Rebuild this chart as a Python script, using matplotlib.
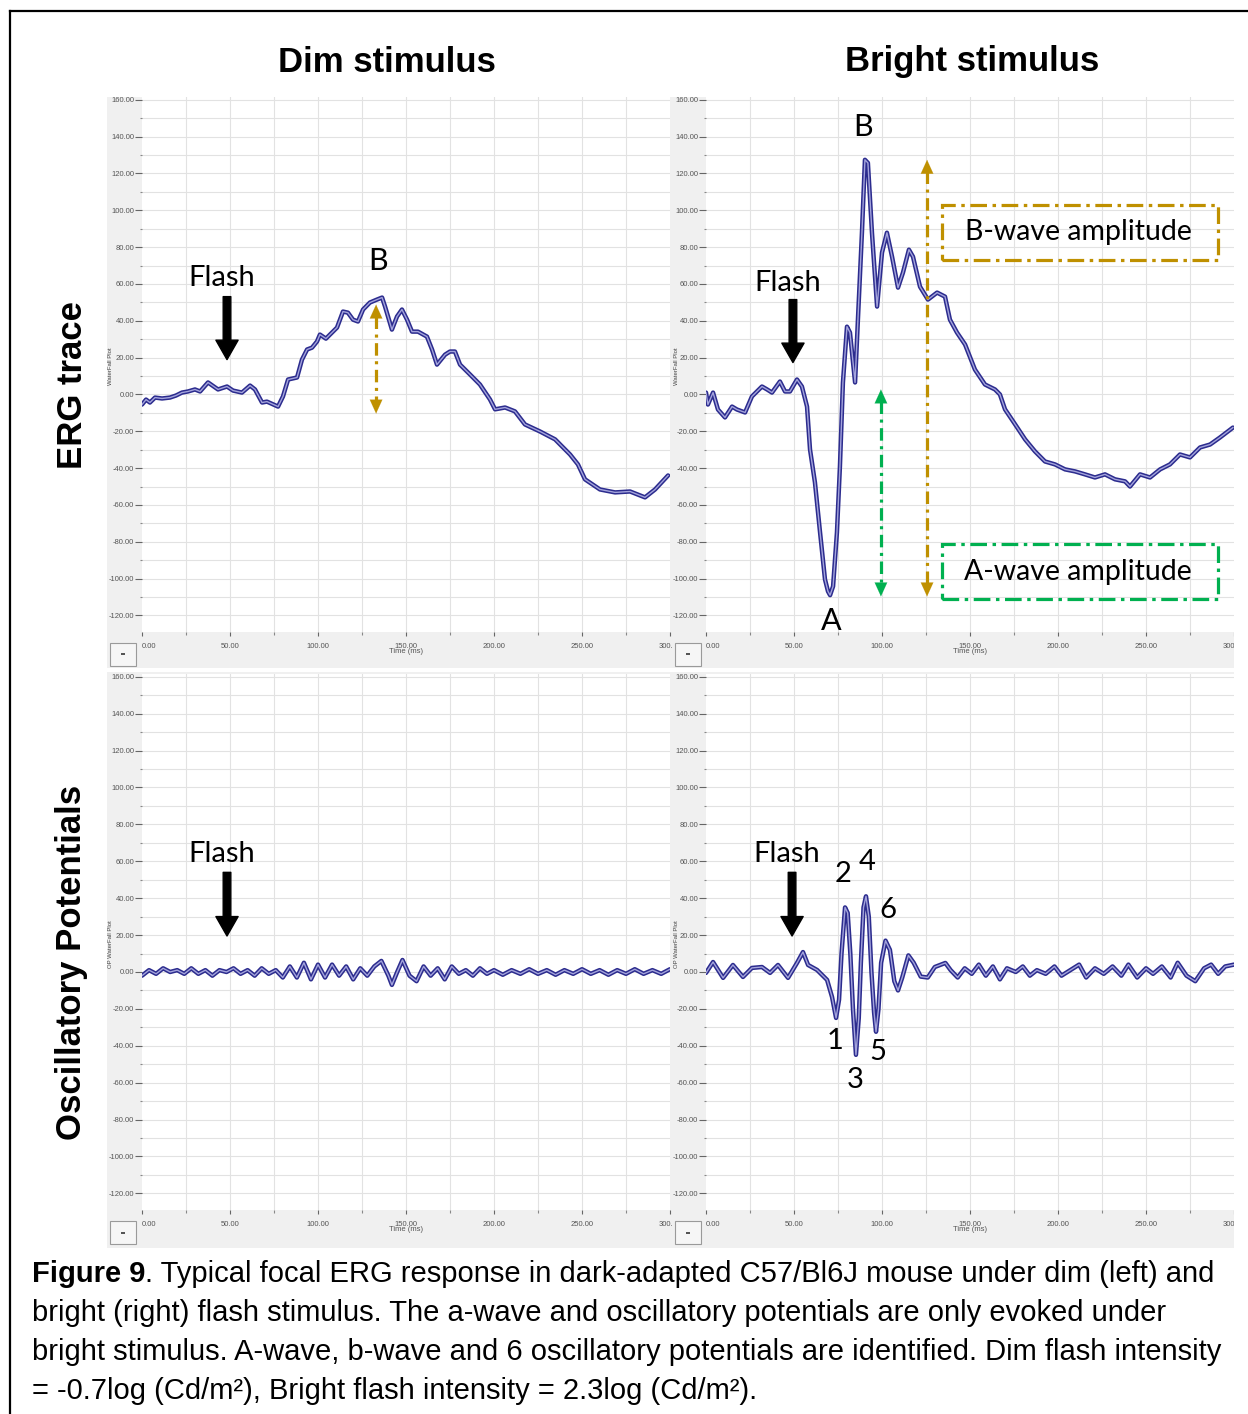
import matplotlib
matplotlib.use('Agg')
import matplotlib.pyplot as plt
from matplotlib.patches import Rectangle
import numpy as np

plt.rcParams['lines.scale_dashes'] = False

# ---------------- data ----------------
erg_dim_t = [0, 2.3, 4.5, 7.4, 11.4, 15.9, 19.3, 22.7, 26.1, 30.1, 33.0, 37.5, 43.2, 48.3, 51.7, 56.8,
             61.4, 64.2, 68.2, 71.0, 77.3, 80.1, 83.0, 88.1, 90.9, 93.8, 96.6, 99.4, 101.1, 104.5, 106.8,
             110.8, 114.2, 117.0, 119.9, 122.7, 125.6, 129.5, 133.5, 136.4, 138.1, 142.0, 144.9, 147.7,
             150.6, 153.4, 156.8, 161.9, 164.8, 167.6, 172.2, 175.0, 177.8, 180.7, 186.4, 192.0, 197.7,
             200.6, 206.3, 211.9, 217.6, 226.1, 234.7, 243.2, 247.7, 251.7, 260.2, 268.8, 277.3, 285.8,
             291.5, 298.9]
erg_dim_v = [-5.5, -2.8, -4.4, -1.7, -2.2, -1.7, -0.6, 1.0, 1.6, 2.7, 1.6, 6.5, 2.7, 4.3, 2.1, 1.0,
             4.8, 2.7, -4.4, -3.9, -6.6, -1.1, 8.1, 9.2, 18.9, 24.4, 25.4, 28.7, 32.5, 30.3, 32.5,
             36.3, 45.0, 44.4, 40.6, 39.6, 46.1, 49.9, 51.5, 52.6, 47.7, 35.2, 42.3, 46.1,
             40.6, 34.1, 34.1, 31.4, 24.4, 16.2, 21.6, 23.3, 23.3, 16.2, 10.8, 5.4, -2.7,
             -8.1, -7.1, -9.2, -16.3, -20.1, -24.4, -32.6, -38.0, -46.1, -51.6, -53.2, -52.7, -55.9,
             -51.6, -44.0]

erg_bright_t = [0, 1.1, 4.0, 6.8, 10.8, 14.8, 17.6, 22.2, 26.1, 31.8, 34.7, 37.5, 42.0, 44.9, 47.7,
                51.7, 54.5, 57.4, 59.1, 61.9, 64.8, 67.6, 69.3, 70.5, 72.2, 74.4, 76.1, 77.8, 80.1, 81.8,
                84.7, 86.4, 88.6, 90.3, 92.0, 94.3, 97.2, 100.0, 102.8, 105.7, 109.1, 111.9, 115.3,
                117.6, 121.6, 126.1, 131.3, 135.8, 138.6, 142.6, 147.2, 152.8, 158.5, 164.2, 167.0,
                169.9, 175.6, 181.3, 186.9, 192.6, 198.3, 204.0, 209.7, 215.3, 221.0, 226.7, 232.4,
                238.1, 240.9, 246.6, 252.3, 258.0, 263.6, 269.3, 275.0, 280.7, 286.4, 292.0, 299.4]
erg_bright_v = [1.0, -5.5, 1.0, -8.2, -12.5, -6.6, -8.2, -9.8, -1.1, 4.3, 2.7, 1.0, 7.0, 1.6, 1.6,
                8.1, 4.3, -6.6, -29.9, -47.8, -74.9, -100.4, -106.9, -109.0, -104.2, -74.9, -39.1, 6.5, 36.8, 33.6,
                6.5, 42.3, 87.8, 127.4, 125.7, 87.8, 47.7, 77.0, 87.8, 74.8, 58.0, 66.1, 78.6,
                74.8, 58.5, 51.5, 55.3, 53.1, 40.6, 33.6, 27.1, 13.5, 5.4, 2.7, 0.0,
                -8.1, -16.2, -24.4, -30.9, -36.4, -38.0, -40.7, -41.8, -43.4, -45.1, -43.4, -46.1,
                -47.2, -50.0, -43.4, -45.1, -40.7, -38.0, -32.6, -34.2, -28.8, -27.2, -23.4, -18.0]

op_dim_t = [0, 4, 8, 12, 16, 20, 24, 28, 32, 36, 40, 44, 48, 52, 56, 60, 64, 68, 72, 76, 80, 84, 88,
            92, 96, 100, 104, 108, 112, 116, 120, 124, 128, 132, 136, 140, 142, 145, 148, 152, 156,
            160, 164, 168, 172, 176, 180, 184, 188, 192, 196, 200, 205, 210, 215, 220, 225, 230, 235,
            240, 245, 250, 255, 260, 265, 270, 275, 280, 285, 290, 295, 300]
op_dim_v = [-2, 1, -1, 2, 0, 1, -1, 2, -1, 1, -2, 1, 0, 2, -1, 1, -2, 2, -1, 1, -3, 3, -3,
            5, -4, 4, -3, 4, -2, 3, -4, 2, -2, 3, 6, -2, -7, 0, 6.5, -2, -5,
            3, -2, 2, -4, 3, -1, 1, -2, 2, -1, 1, -1.5, 1, -1, 1.5, -1, 1, -1.5, 1,
            -1, 1.5, -1, 1, -1.5, 1, -1, 1.5, -1, 1, -1, 1.5]

op_bright_t = [0, 4.0, 9.7, 15.3, 21.0, 26.1, 31.8, 36.4, 40.9, 46.6, 51.7, 55.1, 58.0, 63.1, 68.8,
               71.6, 73.9, 75.6, 77.0, 79.0, 80.5, 82.0, 83.5, 85.2, 86.8, 88.0, 89.5, 90.9, 92.5,
               94.0, 95.5, 96.6, 98.0, 99.5, 102.0, 104.5, 107.0, 109.1, 111.5, 115.0, 118.0, 122.0,
               126.0, 130.0, 136.0, 139.0, 143, 147, 151, 155, 159, 163, 167, 171, 176, 180, 184, 188,
               193, 198, 202, 207, 212, 216, 221, 226, 231, 236, 240, 245, 250, 254, 259, 264, 268,
               273, 278, 283, 287, 291, 295, 300]
op_bright_v = [-0.5, 5.4, -3.2, 3.8, -2.7, 2.2, 2.7, -0.5, 3.8, -3.2, 4.9, 10.8, 3.8, 1.1, -4.3,
               -13.5, -24.9, -15, 10, 35, 32, 10, -20, -44.9, -25, 5, 35, 41, 30,
               0, -22, -32.4, -20, 5, 17, 12, -5, -10, -3, 9, 5, -2.5,
               -3, 2.7, 4.9, 1, -3, 2, -1, 4, -2, 3, -4, 2, 0, 3, -2, 1,
               -1, 3, -2, 1, 4, -3, 2, -1, 3, -2, 4, -3, 2, -1, 3, -3, 5,
               -2, -5, 2, 4, -1, 3, 4]

y_ticks = [160, 140, 120, 100, 80, 60, 40, 20, 0, -20, -40, -60, -80, -100, -120]
x_ticks = [0, 50, 100, 150, 200, 250, 300]

titles = ["Dim stimulus", "Bright stimulus"]
row_labels = ["ERG trace", "Oscillatory Potentials"]
caption_lines = [
    ". Typical focal ERG response in dark-adapted C57/Bl6J mouse under dim (left) and",
    "bright (right) flash stimulus. The a-wave and oscillatory potentials are only evoked under",
    "bright stimulus. A-wave, b-wave and 6 oscillatory potentials are identified. Dim flash intensity",
    "= -0.7log (Cd/m\u00b2), Bright flash intensity = 2.3log (Cd/m\u00b2).",
]

# ---------------- layout helpers ----------------
W, H = 1248, 1414
fig = plt.figure(figsize=(W / 100, H / 100), dpi=100)


def fbox(x0, y0, x1, y1):
    return [x0 / W, 1 - y1 / H, (x1 - x0) / W, (y1 - y0) / H]


GOLD = '#BF9000'
GREEN = '#00B050'
ANN_FONT = ['Lato', 'DejaVu Sans']
TICK_FONT = ['Liberation Sans', 'DejaVu Sans']
TRACE_DARK = '#2c2c8e'
TRACE_LIGHT = '#a4a4dc'


def make_panel(bgbox, axbox, t, v, ylab):
    bg = fig.add_axes(fbox(*bgbox))
    bg.set_facecolor('#f0f0f0')
    bg.set_xticks([])
    bg.set_yticks([])
    for s in bg.spines.values():
        s.set_visible(False)
    ax = fig.add_axes(fbox(*axbox))
    ax.set_facecolor('white')
    ax.set_xlim(0, 300)
    ax.set_ylim(-129, 161.5)
    for s in ax.spines.values():
        s.set_visible(False)
    ax.set_yticks(y_ticks)
    ax.set_yticklabels([f"{y:.2f}" for y in y_ticks], family=TICK_FONT)
    ax.set_yticks(np.arange(-120, 161, 10), minor=True)
    ax.set_xticks(x_ticks)
    ax.set_xticklabels([f"{x:.2f}" for x in x_ticks], family=TICK_FONT)
    ax.set_xticks(np.arange(0, 301, 25), minor=True)
    ax.tick_params(axis='both', which='major', labelsize=5.5, labelcolor='#555555', color='#666666',
                   direction='out')
    ax.tick_params(axis='y', which='major', length=5, width=0.8, pad=0.5)
    ax.tick_params(axis='y', which='minor', length=1.5, width=0.8, color='#888888')
    ax.tick_params(axis='x', which='major', length=3, width=0.8, pad=5)
    ax.tick_params(axis='x', which='minor', length=2, width=0.8, color='#888888')
    labs = ax.get_xticklabels()
    labs[0].set_horizontalalignment('left')
    ax.set_xlabel('Time (ms)', fontsize=5.5, color='#555555', labelpad=-1.5, family=TICK_FONT)
    # grid
    for gy in np.arange(-120, 161, 10):
        ax.axhline(gy, color='#e2e2e2', lw=0.8, zorder=0)
    for gx in np.arange(25, 300, 25):
        ax.axvline(gx, color='#e2e2e2', lw=0.8, zorder=0)
    ax.plot(t, v, color=TRACE_DARK, lw=3.2, solid_joinstyle='round', solid_capstyle='round', zorder=3)
    ax.plot(t, v, color=TRACE_LIGHT, lw=1.0, solid_joinstyle='round', zorder=4)
    # small button
    bx0, by0 = bgbox[0] + 3, axbox[3] + 11
    fig.patches.append(Rectangle((bx0 / W, 1 - (by0 + 23) / H), 26 / W, 23 / H, transform=fig.transFigure,
                                 facecolor='#f6f6f6', edgecolor='#9a9a9a', lw=0.8, zorder=3))
    fig.patches.append(Rectangle(((bx0 + 11) / W, 1 - (by0 + 12.5) / H), 4 / W, 2 / H, transform=fig.transFigure,
                                 facecolor='#555555', edgecolor='none', zorder=4))
    cy = (axbox[1] + axbox[3]) / 2 + 2
    fig.text((bgbox[0] + 4) / W, 1 - cy / H, ylab, rotation=90, fontsize=4.3, color='#444444',
             ha='center', va='center', family=TICK_FONT)
    return ax


ax_tl = make_panel((107, 97, 672, 668), (142, 97, 670, 632), erg_dim_t, erg_dim_v, 'WaterFall Plot')
ax_tr = make_panel((672, 97, 1234, 668), (706, 97, 1234, 632), erg_bright_t, erg_bright_v, 'WaterFall Plot')
ax_bl = make_panel((107, 672, 672, 1248), (142, 674, 670, 1210), op_dim_t, op_dim_v, 'OP WaterFall Plot')
ax_br = make_panel((672, 672, 1234, 1248), (706, 674, 1234, 1210), op_bright_t, op_bright_v, 'OP WaterFall Plot')

# white mask right of the right panels (clips "300.00")
fig.patches.append(Rectangle((1234 / W, 1 - 1250 / H), 20 / W, 1160 / H, transform=fig.transFigure,
                             facecolor='white', edgecolor='none', zorder=5))

# outer frame
fig.add_artist(plt.Line2D([10 / W, 10 / W], [0, 1 - 11 / H], color='black', lw=1.6, transform=fig.transFigure))
fig.add_artist(plt.Line2D([10 / W, 1], [1 - 11 / H, 1 - 11 / H], color='black', lw=1.6, transform=fig.transFigure))

# titles and row labels
title_font = ['Liberation Sans', 'DejaVu Sans']
fig.text(387 / W, 1 - 62 / H, titles[0], fontsize=25, fontweight='bold', ha='center', va='center', family=title_font)
fig.text(972 / W, 1 - 62 / H, titles[1], fontsize=25, fontweight='bold', ha='center', va='center', family=title_font)
fig.text(72 / W, 1 - 385 / H, row_labels[0], fontsize=25, fontweight='bold', ha='center', va='center',
         rotation=90, family=title_font)
fig.text(72 / W, 1 - 962 / H, row_labels[1], fontsize=25, fontweight='bold', ha='center', va='center',
         rotation=90, family=title_font)


# annotations
def flash(ax, t, vtext, vtop, vtip):
    ax.text(t - 3, vtext, 'Flash', fontsize=21, ha='center', va='center', family=ANN_FONT, zorder=6)
    ax.annotate('', xy=(t, vtip), xytext=(t, vtop),
                arrowprops=dict(width=5.5, headwidth=16, headlength=14, color='black', shrink=0), zorder=6)


def dd_arrow(ax, t, vtop, vbot, color):
    ax.plot([t, t], [vtop - 6, vbot + 6], color=color, lw=2.3, dashes=(9, 4, 2.2, 4), zorder=6)
    for tip, tail in ((vtop, vtop - 4), (vbot, vbot + 4)):
        ax.annotate('', xy=(t, tip), xytext=(t, tail),
                    arrowprops=dict(arrowstyle='-|>,head_length=0.55,head_width=0.25', color=color,
                                    lw=0.1, mutation_scale=18, shrinkA=0, shrinkB=0), zorder=6)


flash(ax_tl, 48.3, 63.4, 53.1, 18.9)
flash(ax_tr, 49.4, 60.7, 51.5, 17.3)
flash(ax_bl, 48.3, 63.8, 54.0, 19.5)
flash(ax_br, 48.9, 63.8, 54.0, 19.5)

ax_tl.text(134.1, 72.6, 'B', fontsize=22, ha='center', va='center', family=ANN_FONT, zorder=6)
ax_tr.text(89.2, 145.3, 'B', fontsize=22, ha='center', va='center', family=ANN_FONT, zorder=6)
ax_tr.text(71.0, -123.1, 'A', fontsize=22, ha='center', va='center', family=ANN_FONT, zorder=6, clip_on=False)

dd_arrow(ax_tl, 133.0, 48.8, -10.4, GOLD)
dd_arrow(ax_tr, 125.6, 127.4, -109.7, GOLD)
dd_arrow(ax_tr, 99.4, 2.7, -109.7, GREEN)

for (t0, t1, v0, v1, col, txt) in ((134.1, 290.9, 73.2, 102.9, GOLD, 'B-wave amplitude'),
                                    (134.1, 290.9, -111.2, -81.3, GREEN, 'A-wave amplitude')):
    ax_tr.add_patch(Rectangle((t0, v0), t1 - t0, v1 - v0, fill=False, edgecolor=col, lw=2.3,
                              linestyle=(0, (12, 4, 2.5, 4)), zorder=6))
    ax_tr.text((t0 + t1) / 2 - 1, (v0 + v1) / 2, txt, fontsize=20.5, ha='center', va='center',
               family=ANN_FONT, zorder=7)

for lab, t, v in (('2', 77.8, 53.0), ('4', 91.5, 59.5), ('6', 103.4, 33.5),
                  ('1', 73.3, -37.3), ('3', 84.7, -58.4), ('5', 97.7, -43.2)):
    ax_br.text(t, v, lab, fontsize=21, ha='center', va='center', family=ANN_FONT, zorder=6)

# caption
cap_font = ['Liberation Sans', 'DejaVu Sans']
CAP_SIZE = 21
renderer = fig.canvas.get_renderer()
t_bold = fig.text(32 / W, 1 - 1282 / H, 'Figure 9', fontsize=CAP_SIZE, fontweight='bold', family=cap_font,
                  ha='left', va='baseline')
bb = t_bold.get_window_extent(renderer)
fig.text(bb.x1 / W, 1 - 1282 / H, caption_lines[0], fontsize=CAP_SIZE, family=cap_font, ha='left', va='baseline')
for i, line in enumerate(caption_lines[1:], start=1):
    fig.text(32 / W, 1 - (1282 + 39 * i) / H, line, fontsize=CAP_SIZE, family=cap_font, ha='left', va='baseline')

fig.savefig('out.png', dpi=100, facecolor='white')
